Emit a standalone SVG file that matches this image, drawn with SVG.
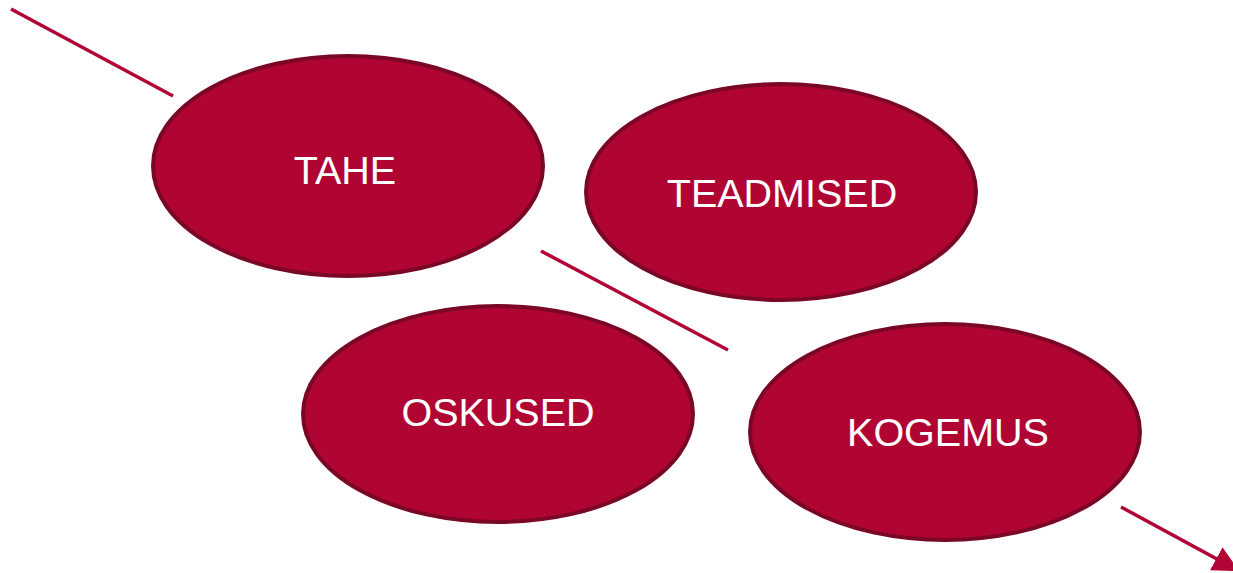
<svg xmlns="http://www.w3.org/2000/svg" width="1233" height="573" viewBox="0 0 1233 573">
<style>
.n ellipse{fill:#B00533;stroke:#7A0725;stroke-width:4}
.n text{fill:#fff;font-family:"Liberation Sans",Arial,sans-serif;font-size:39.5px;text-anchor:middle}
.c line{stroke:#B10535;stroke-width:3.5;fill:none}
</style>
<defs>
<marker id="ah" viewBox="0 0 10 10" refX="9" refY="5" markerWidth="7.5" markerHeight="7.5" orient="auto" markerUnits="strokeWidth">
<path d="M0,0L10,5L0,10z" fill="#B10535"/>
</marker>
</defs>
<g class="c" id="connectors">
<line x1="11" y1="9" x2="173" y2="96"/>
<line x1="541" y1="251" x2="728" y2="350"/>
<line x1="1121" y1="507" x2="1237" y2="570" marker-end="url(#ah)"/>
</g>
<g class="n" id="tahe"><ellipse cx="348" cy="166" rx="195" ry="110"/><text x="345" y="184">TAHE</text></g>
<g class="n" id="teadmised"><ellipse cx="781" cy="192" rx="195" ry="108"/><text x="782" y="207">TEADMISED</text></g>
<g class="n" id="oskused"><ellipse cx="498" cy="414" rx="195" ry="108"/><text x="498" y="426">OSKUSED</text></g>
<g class="n" id="kogemus"><ellipse cx="945" cy="432" rx="195" ry="108"/><text x="948" y="446">KOGEMUS</text></g>
</svg>
